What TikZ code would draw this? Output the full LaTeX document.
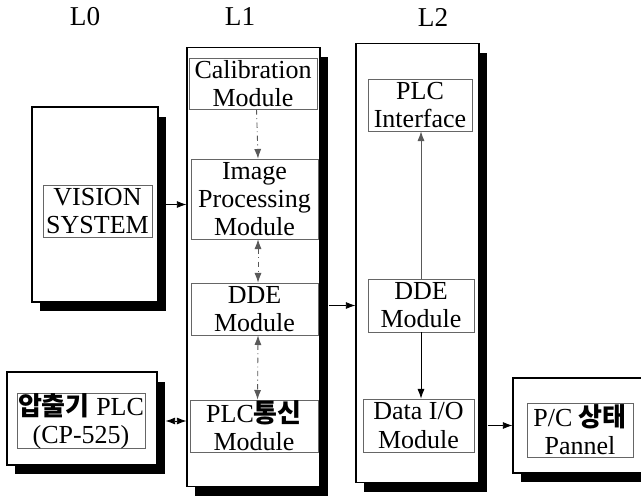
\documentclass[tikz,border=0pt]{standalone}
\usepackage{fontspec}
\setmainfont{Liberation Serif}
\newfontfamily\kr{Noto Sans CJK KR}
\usetikzlibrary{arrows.meta, shadows}

\begin{document}
\begin{tikzpicture}[
  x=0.02cm, y=-0.02cm,
  >={Latex[length=5.5pt, width=4pt]},
  layerbox/.style={draw, fill=white, line width=0.6pt, inner sep=0pt,
    drop shadow={shadow xshift=0.16cm, shadow yshift=-0.19cm,
      fill=black, opacity=1}},
  modbox/.style={draw=black!60, line width=0.4pt, inner sep=0pt,
    align=center, font=\fontsize{14.8}{16}\selectfont},
  layerlabel/.style={font=\fontsize{15.5}{18}\selectfont},
  arrow/.style={->, line width=0.5pt},
  darrow/.style={line width=0.5pt, gray!70!black, dash dot},
]
\useasboundingbox (0,0) rectangle (641,499);

% ===== Layer titles =====
\node[layerlabel] (lab0) at (85,17) {L0};
\node[layerlabel] (lab1) at (240,17) {L1};
\node[layerlabel] (lab2) at (433,17) {L2};

% ===== Outer (shadowed) boxes =====
\node[layerbox, minimum width=2.52cm, minimum height=3.9cm]
  (vision) at (95,204.5) {};
\node[layerbox, minimum width=3.0cm, minimum height=1.86cm]
  (press) at (82,418.5) {};
\node[layerbox, minimum width=2.66cm, minimum height=8.8cm]
  (l1box) at (253.5,267) {};
\node[layerbox, minimum width=2.46cm, minimum height=8.8cm]
  (l2box) at (417.5,263) {};
\node[layerbox, minimum width=2.6cm, minimum height=1.9cm]
  (panel) at (578,425.5) {};

% ===== L0 modules =====
\node[modbox, minimum width=2.18cm, minimum height=1.04cm]
  (vsys) at (97.5,211) {VISION\\SYSTEM};
\node[modbox, minimum width=2.56cm, minimum height=1.08cm]
  (pressin) at (81,421) {{\kr\bfseries 압출기} PLC\\(CP-525)};

% ===== L1 modules =====
\node[modbox, minimum width=2.56cm, minimum height=1.02cm]
  (calib) at (253,83.5) {Calibration\\Module};
\node[modbox, minimum width=2.54cm, minimum height=1.6cm]
  (imgproc) at (254.5,199) {Image\\Processing\\Module};
\node[modbox, minimum width=2.54cm, minimum height=1.04cm]
  (dde1) at (254.5,309) {DDE\\Module};
\node[modbox, minimum width=2.56cm, minimum height=1.04cm]
  (plccom) at (254,426) {PLC{\kr\bfseries 통신}\\Module};

% ===== L2 modules =====
\node[modbox, minimum width=2.08cm, minimum height=1.04cm]
  (plcif) at (420,105) {PLC\\Interface};
\node[modbox, minimum width=2.12cm, minimum height=1.06cm]
  (dde2) at (421,305.5) {DDE\\Module};
\node[modbox, minimum width=2.22cm, minimum height=1.06cm]
  (dataio) at (418.5,425.5) {Data I/O\\Module};

% ===== Panel =====
\node[modbox, minimum width=2.12cm, minimum height=1.08cm]
  (panelin) at (580,430) {P/C {\kr\bfseries 상태}\\Pannel};

% Arrows inside L1
\draw[darrow, ->] ([xshift=2pt]calib.south) -- ([xshift=2pt]imgproc.north);
\draw[darrow, <->] ([xshift=2pt]imgproc.south) -- ([xshift=2pt]dde1.north);
\draw[darrow, <->] ([xshift=2pt]dde1.south) -- ([xshift=2pt]plccom.north);

% Arrows inside L2
\draw[arrow, gray!70!black] (dde2.north) -- (dde2.north |- plcif.south);
\draw[arrow] (dde2.south) -- (dde2.south |- dataio.north);

% Arrows between layers
\draw[arrow] (vision.east) -- (l1box.west |- vision);
\draw[arrow, <->] ([xshift=0.16cm]press.east |- pressin) -- (l1box.west |- pressin);
\draw[arrow] ([xshift=0.16cm]l1box.east |- dde2) -- (l2box.west |- dde2);
\draw[arrow] ([xshift=0.16cm]l2box.east |- dataio) -- (panel.west |- dataio);

\end{tikzpicture}
\end{document}
